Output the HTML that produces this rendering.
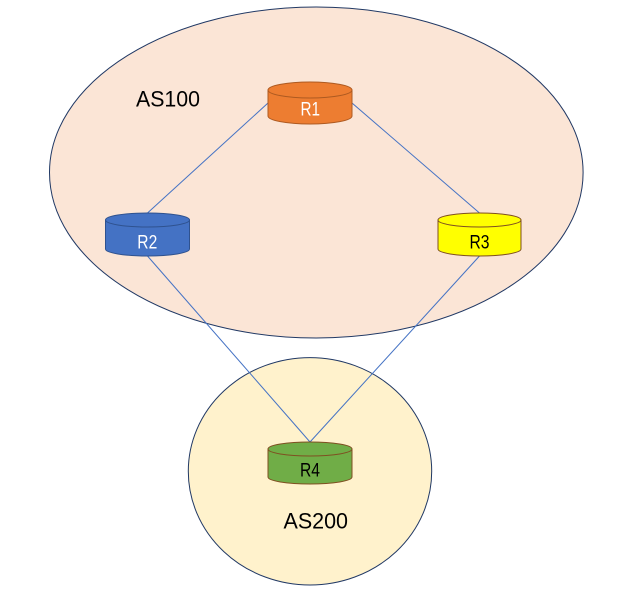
<!DOCTYPE html>
<html><head><meta charset="utf-8"><style>
html,body{margin:0;padding:0;background:#fff;width:638px;height:590px;overflow:hidden}
svg{display:block}
text{font-family:"Liberation Sans","Noto Sans CJK JP",sans-serif}
</style></head><body>
<svg width="638" height="590" viewBox="0 0 638 590" xmlns="http://www.w3.org/2000/svg">
<ellipse cx="316.3" cy="172.5" rx="266.8" ry="165.5" fill="#FBE5D6" stroke="#203864" stroke-width="1"/>
<ellipse cx="310" cy="471.3" rx="121.7" ry="113.7" fill="#FFF2CC" stroke="#203864" stroke-width="1"/>
<g stroke="#4472C4" stroke-width="1" fill="none">
<line x1="268" y1="103" x2="147.5" y2="213"/>
<line x1="352" y1="103" x2="479.5" y2="213"/>
<line x1="147.5" y1="256" x2="310" y2="442"/>
<line x1="479.5" y1="256" x2="310" y2="442"/>
</g>
<!-- R1 -->
<g stroke="#AE5A21" stroke-width="1">
<path d="M268,90 L268,116 A42,8 0 0 0 352,116 L352,90 Z" fill="#ED7D31"/>
<ellipse cx="310" cy="90" rx="42" ry="8" fill="#ED7D31"/>
</g>
<text x="300.5" y="115.7" font-size="19" fill="#fff" textLength="19.5" lengthAdjust="spacingAndGlyphs">R1</text>
<!-- R2 -->
<g stroke="#2F528F" stroke-width="1">
<path d="M105.5,220 L105.5,249 A42,7 0 0 0 189.5,249 L189.5,220 Z" fill="#4472C4"/>
<ellipse cx="147.5" cy="220" rx="42" ry="7" fill="#4472C4"/>
</g>
<text x="137.3" y="248.3" font-size="19" fill="#fff" textLength="20" lengthAdjust="spacingAndGlyphs">R2</text>
<!-- R3 -->
<g stroke="#7F4F21" stroke-width="1">
<path d="M438,220 L438,249 A41.5,7 0 0 0 521,249 L521,220 Z" fill="#FFFF00"/>
<ellipse cx="479.5" cy="220" rx="41.5" ry="7" fill="#FFFF00"/>
</g>
<text x="469.5" y="248.3" font-size="19" fill="#000" textLength="20" lengthAdjust="spacingAndGlyphs">R3</text>
<!-- R4 -->
<g stroke="#7F4F21" stroke-width="1">
<path d="M268,449 L268,477 A42,7 0 0 0 352,477 L352,449 Z" fill="#70AD47"/>
<ellipse cx="310" cy="449" rx="42" ry="7" fill="#70AD47"/>
</g>
<text x="300" y="476.5" font-size="19" fill="#000" textLength="20" lengthAdjust="spacingAndGlyphs">R4</text>
<text x="136" y="106.7" font-size="22" fill="#000" textLength="64" lengthAdjust="spacingAndGlyphs">AS100</text>
<text x="283.5" y="528.3" font-size="22" fill="#000" textLength="64.5" lengthAdjust="spacingAndGlyphs">AS200</text>
</svg>
</body></html>
